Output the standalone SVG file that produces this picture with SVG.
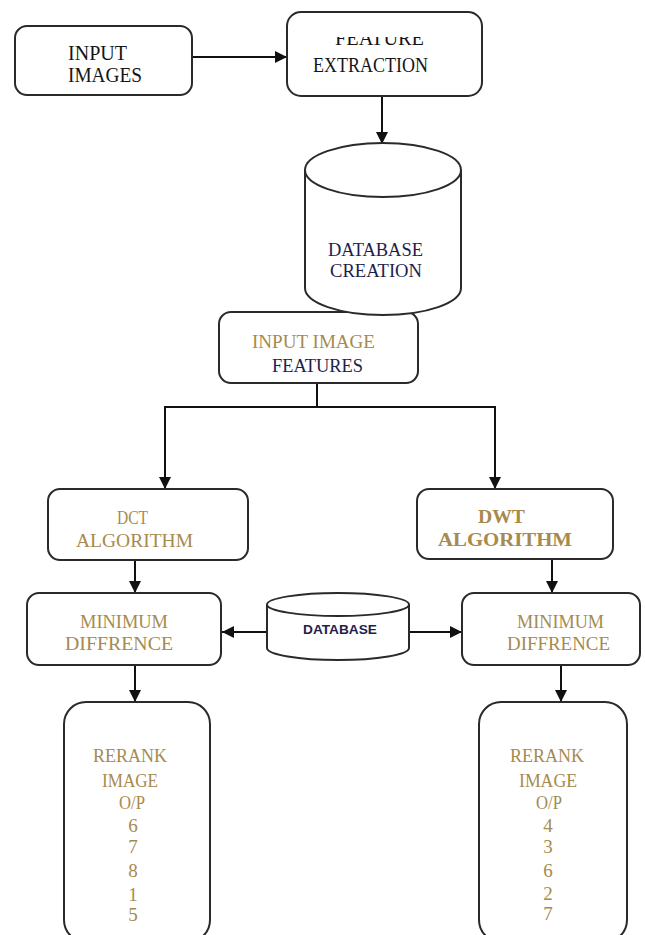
<svg xmlns="http://www.w3.org/2000/svg" width="645" height="935" viewBox="0 0 645 935">
<style>
.box{fill:#fff;stroke:#2a2a2a;stroke-width:2}
.cyl{fill:#fff;stroke:#2a2a2a;stroke-width:2}
.con{fill:none;stroke:#111;stroke-width:2}
.t{font-family:"Liberation Serif","Times New Roman",serif;font-size:19px}
.big{font-size:21px}
.blk{fill:#151515}
.nav{fill:#1e1e4e}
.gld{fill:#a68a4e}
.b{font-weight:bold}
.s{font-family:"Liberation Sans",Arial,sans-serif;font-size:13px;font-weight:bold;fill:#1e1e4e}
</style>
<defs>
<marker id="ah" markerUnits="userSpaceOnUse" markerWidth="12" markerHeight="12" refX="12" refY="6" orient="auto">
<path d="M0,0 L12,6 L0,12 z" fill="#111"/>
</marker>
<clipPath id="clipF"><rect x="280" y="37" width="210" height="60"/></clipPath>
</defs>
<rect width="645" height="935" fill="#fff"/>

<g id="connectors">
<line class="con" x1="192" y1="57" x2="287" y2="57" marker-end="url(#ah)"/>
<line class="con" x1="382" y1="96" x2="382" y2="144" marker-end="url(#ah)"/>
<polyline class="con" points="317,383 317,407 165,407 165,489" marker-end="url(#ah)"/>
<polyline class="con" points="317,407 495,407 495,489" marker-end="url(#ah)"/>
<line class="con" x1="135" y1="560" x2="135" y2="593" marker-end="url(#ah)"/>
<line class="con" x1="552" y1="559" x2="552" y2="593" marker-end="url(#ah)"/>
<line class="con" x1="267" y1="632" x2="222" y2="632" marker-end="url(#ah)"/>
<line class="con" x1="409" y1="632" x2="462" y2="632" marker-end="url(#ah)"/>
<line class="con" x1="135" y1="665" x2="135" y2="702" marker-end="url(#ah)"/>
<line class="con" x1="561" y1="665" x2="561" y2="702" marker-end="url(#ah)"/>
</g>

<g id="input-images">
<rect class="box" x="15" y="26" width="177" height="69" rx="12"/>
<text class="t big blk" x="68" y="60" textLength="59" lengthAdjust="spacingAndGlyphs">INPUT</text>
<text class="t big blk" x="68" y="82" textLength="74" lengthAdjust="spacingAndGlyphs">IMAGES</text>
</g>

<g id="feature-extraction">
<rect class="box" x="287" y="12" width="195" height="84" rx="14"/>
<text class="t big blk" x="335" y="45" textLength="89" lengthAdjust="spacingAndGlyphs" clip-path="url(#clipF)">FEATURE</text>
<text class="t big blk" x="313" y="72" textLength="115" lengthAdjust="spacingAndGlyphs">EXTRACTION</text>
</g>

<g id="input-image-features">
<rect class="box" x="219" y="312" width="199" height="71" rx="12"/>
<text class="t gld" x="252" y="348" textLength="123" lengthAdjust="spacingAndGlyphs">INPUT IMAGE</text>
<text class="t nav" x="272" y="372" textLength="91" lengthAdjust="spacingAndGlyphs">FEATURES</text>
</g>

<g id="database-creation">
<path class="cyl" d="M305,170 L305,288 A78,27 0 0 0 461,288 L461,170"/>
<ellipse class="cyl" cx="383" cy="170" rx="78" ry="27"/>
<text class="t nav" x="328" y="256" textLength="95" lengthAdjust="spacingAndGlyphs">DATABASE</text>
<text class="t nav" x="330" y="277" textLength="92" lengthAdjust="spacingAndGlyphs">CREATION</text>
</g>

<g id="dct-algorithm">
<rect class="box" x="48" y="489" width="200" height="71" rx="12"/>
<text class="t gld" x="117" y="524" textLength="31" lengthAdjust="spacingAndGlyphs">DCT</text>
<text class="t gld" x="76" y="547" textLength="117" lengthAdjust="spacingAndGlyphs">ALGORITHM</text>
</g>

<g id="dwt-algorithm">
<rect class="box" x="417" y="489" width="196" height="70" rx="12"/>
<text class="t gld b" x="478" y="523" textLength="47" lengthAdjust="spacingAndGlyphs">DWT</text>
<text class="t gld b" x="438" y="546" textLength="134" lengthAdjust="spacingAndGlyphs">ALGORITHM</text>
</g>

<g id="minimum-difference-left">
<rect class="box" x="27" y="593" width="194" height="72" rx="12"/>
<text class="t gld" x="80" y="628" textLength="88" lengthAdjust="spacingAndGlyphs">MINIMUM</text>
<text class="t gld" x="65" y="650" textLength="108" lengthAdjust="spacingAndGlyphs">DIFFRENCE</text>
</g>

<g id="database">
<path class="cyl" d="M267,604.5 L267,648 A71,12 0 0 0 409,648 L409,604.5"/>
<ellipse class="cyl" cx="338" cy="604.5" rx="71" ry="11.5"/>
<text class="s" x="303" y="634" textLength="74" lengthAdjust="spacingAndGlyphs">DATABASE</text>
</g>

<g id="minimum-difference-right">
<rect class="box" x="462" y="593" width="178" height="72" rx="12"/>
<text class="t gld" x="517" y="628" textLength="87" lengthAdjust="spacingAndGlyphs">MINIMUM</text>
<text class="t gld" x="507" y="650" textLength="103" lengthAdjust="spacingAndGlyphs">DIFFRENCE</text>
</g>

<g id="rerank-left">
<rect class="box" x="64" y="702" width="146" height="240" rx="22"/>
<text class="t gld" x="93" y="762" textLength="74" lengthAdjust="spacingAndGlyphs">RERANK</text>
<text class="t gld" x="102" y="787" textLength="56" lengthAdjust="spacingAndGlyphs">IMAGE</text>
<text class="t gld" x="119" y="809" textLength="26" lengthAdjust="spacingAndGlyphs">O/P</text>
<g class="t gld" text-anchor="middle">
<text x="133" y="832">6</text>
<text x="133" y="853">7</text>
<text x="133" y="877">8</text>
<text x="133" y="901">1</text>
<text x="133" y="921">5</text>
</g>
</g>

<g id="rerank-right">
<rect class="box" x="479" y="702" width="148" height="240" rx="22"/>
<text class="t gld" x="510" y="762" textLength="74" lengthAdjust="spacingAndGlyphs">RERANK</text>
<text class="t gld" x="519" y="787" textLength="58" lengthAdjust="spacingAndGlyphs">IMAGE</text>
<text class="t gld" x="536" y="809" textLength="26" lengthAdjust="spacingAndGlyphs">O/P</text>
<g class="t gld" text-anchor="middle">
<text x="548" y="832">4</text>
<text x="548" y="853">3</text>
<text x="548" y="877">6</text>
<text x="548" y="900">2</text>
<text x="548" y="920">7</text>
</g>
</g>
</svg>
